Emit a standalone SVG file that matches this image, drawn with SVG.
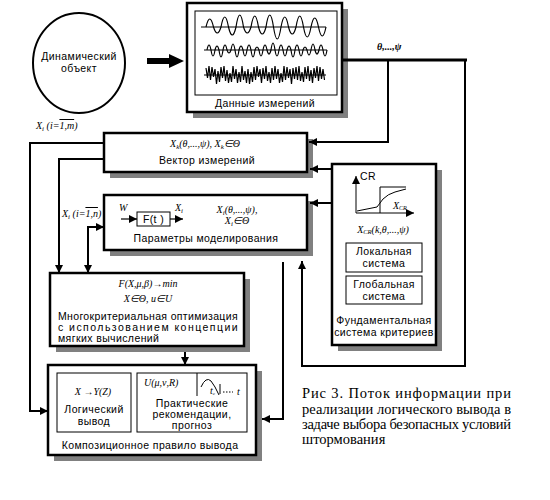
<svg xmlns="http://www.w3.org/2000/svg" width="550" height="500" viewBox="0 0 550 500">
<defs>
<marker id="ah" markerWidth="8" markerHeight="8" refX="8" refY="4" orient="auto" markerUnits="userSpaceOnUse">
<path d="M0,0 L8,4 L0,8 Z" fill="#000"/>
</marker>
<marker id="ahs" markerWidth="8" markerHeight="8" refX="8" refY="4" orient="auto-start-reverse" markerUnits="userSpaceOnUse">
<path d="M0,0 L8,4 L0,8 Z" fill="#000"/>
</marker>
</defs>
<style>
.box{fill:#fff;stroke:#000;stroke-width:2.5}
.ibox{fill:#fff;stroke:#000;stroke-width:1}
.sh{fill:#808080}
.lbl{font-family:"Liberation Sans",Arial,sans-serif;font-size:10.5px;fill:#000;letter-spacing:0.4px}
.fm{font-family:"Liberation Serif","Times New Roman",serif;font-size:10px;font-style:italic;fill:#000}
.cap{font-family:"Liberation Serif","Times New Roman",serif;font-size:14.5px;fill:#000}
.c{fill:none;stroke:#000;stroke-width:2}
.w{fill:none;stroke:#000;stroke-width:1.2}
</style>
<rect width="550" height="500" fill="#fff"/>

<g id="object">
<ellipse cx="79" cy="63" rx="46" ry="50" fill="#fff" stroke="#000" stroke-width="2"/>
<text class="lbl" x="79" y="60" text-anchor="middle">Динамический</text>
<text class="lbl" x="79" y="72" text-anchor="middle">объект</text>
</g>

<g id="big-arrow">
<rect x="147" y="58" width="24" height="6" fill="#000"/>
<path d="M169,54 L184,61 L169,68 Z" fill="#000"/>
</g>

<g id="data">
<rect class="sh" x="193" y="9" width="155" height="109"/>
<rect class="box" x="187" y="3" width="155" height="109"/>
<rect class="ibox" x="195" y="11" width="142" height="84"/>
<line x1="201" y1="27" x2="326" y2="27" stroke="#000" stroke-width="1"/>
<line x1="204" y1="50" x2="327" y2="50" stroke="#000" stroke-width="1"/>
<line x1="204" y1="75" x2="326" y2="75" stroke="#000" stroke-width="1"/>
<path class="w" d="M206,27 Q209.75,11 213.5,27 Q217.25,39 221,27 Q224.75,7 228.5,27 Q232.25,43 236,27 Q239.75,3 243.5,27 Q247.25,39 251,27 Q254.75,5 258.5,27 Q262.25,41 266,27 Q269.75,3 273.5,27 Q277.25,51 281,27 Q284.75,7 288.5,27 Q292.25,41 296,27 Q299.75,5 303.5,27 Q307.25,47 311,27 Q314.75,9 318.5,27 Q322.25,45 326,27"/>
<path class="w" d="M207,50 Q209,40 211,50 Q213,62 215,50 Q217,42 219,50 Q221,64 223,50 Q225,40 227,50 Q229,56 231,50 Q233,38 235,50 Q237,64 239,50 Q241,42 243,50 Q245,62 247,50 Q249,40 251,50 Q253,64 255,50 Q257,44 259,50 Q261,62 263,50 Q265,40 267,50 Q269,58 271,50 Q273,36 275,50 Q277,62 279,50 Q281,40 283,50 Q285,62 287,50 Q289,42 291,50 Q293,64 295,50 Q297,40 299,50 Q301,62 303,50 Q305,44 307,50 Q309,60 311,50 Q313,38 315,50 Q317,58 319,50 Q321,40 323,50 Q325,62 327,50"/>
<polyline class="w" points="206,68 207.5,78 209,66 210.5,80 212,67 213.5,77 215,69 216.5,84 218,71 219.5,82 221,67 222.5,78 224,66 225.5,81 227,70 228.5,83 230,73 231.5,82 233,66 234.5,79 236,69 237.5,83 239,72 240.5,82 242,66 243.5,80 245,71 246.5,83 248,69 249.5,84 251,72 252.5,82 254,67 255.5,80 257,66 258.5,77 260,69 261.5,83 263,68 264.5,79 266,66 267.5,81 269,72 270.5,83 272,68 273.5,80 275,66 276.5,79 278,69 279.5,83 281,73 282.5,82 284,66 285.5,80 287,67 288.5,78 290,69 291.5,84 293,68 294.5,79 296,67 297.5,80 299,66 300.5,81 302,72 303.5,82 305,67 306.5,79 308,66 309.5,81 311,70 312.5,83 314,68 315.5,78 317,66 318.5,81 320,67 321.5,79 323,69 324.5,80"/>
<text class="lbl" x="265" y="107" text-anchor="middle">Данные измерений</text>
</g>

<g id="vector">
<rect class="sh" x="110" y="139" width="203" height="39"/>
<rect class="box" x="104" y="133" width="203" height="39"/>
<text class="fm" x="205" y="147" text-anchor="middle">X<tspan font-size="7" dy="2">k</tspan><tspan dy="-2">(θ,...,ψ),   X</tspan><tspan font-size="7" dy="2">k</tspan><tspan dy="-2">∈Θ</tspan></text>
<text class="lbl" x="207" y="164" text-anchor="middle">Вектор измерений</text>
</g>

<g id="params">
<rect class="sh" x="110" y="201" width="203" height="55"/>
<rect class="box" x="104" y="195" width="203" height="55"/>
<text class="fm" x="119" y="211">W</text>
<line x1="121" y1="219" x2="137" y2="219" stroke="#000" stroke-width="1.2" marker-end="url(#ah)"/>
<rect class="ibox" x="137" y="212" width="33" height="14"/>
<text class="lbl" x="153.5" y="223" text-anchor="middle" letter-spacing="0">F(t )</text>
<line x1="170" y1="219" x2="183" y2="219" stroke="#000" stroke-width="1.2" marker-end="url(#ah)"/>
<text class="fm" x="175" y="211">X<tspan font-size="7" dy="2">i</tspan></text>
<text class="fm" x="237" y="213" text-anchor="middle">X<tspan font-size="7" dy="2">i</tspan><tspan dy="-2">(θ,...,ψ),</tspan></text>
<text class="fm" x="237" y="224" text-anchor="middle">X<tspan font-size="7" dy="2">i</tspan><tspan dy="-2">∈Θ</tspan></text>
<text class="lbl" x="206" y="242" text-anchor="middle">Параметры моделирования</text>
</g>

<g id="criteria">
<rect class="sh" x="338" y="170" width="104" height="181"/>
<rect class="box" x="332" y="164" width="104" height="181"/>
<line x1="356" y1="213" x2="356" y2="176" stroke="#000" stroke-width="1" marker-end="url(#ah)"/>
<line x1="356" y1="213" x2="414" y2="213" stroke="#000" stroke-width="1" marker-end="url(#ah)"/>
<text class="lbl" x="360" y="180" font-size="8">CR</text>
<line x1="380" y1="187" x2="380" y2="213" stroke="#000" stroke-width="1"/>
<line x1="380" y1="187" x2="406" y2="187" stroke="#000" stroke-width="1"/>
<path d="M357,211 L367,209 L377,207 Q380,203 383,199 Q388,194 395,192 L406,189" fill="none" stroke="#000" stroke-width="1"/>
<text class="fm" x="393" y="209" font-size="9">X<tspan font-size="6" dy="1">CR</tspan></text>
<text class="fm" x="383" y="233" text-anchor="middle">X<tspan font-size="6.5" dy="1">CR</tspan><tspan dy="-1">(k,θ,...,ψ)</tspan></text>
<rect class="ibox" x="346" y="243" width="76" height="29"/>
<text class="lbl" x="384" y="255" text-anchor="middle">Локальная</text>
<text class="lbl" x="384" y="267" text-anchor="middle">система</text>
<rect class="ibox" x="346" y="276" width="76" height="28"/>
<text class="lbl" x="384" y="288" text-anchor="middle">Глобальная</text>
<text class="lbl" x="384" y="300" text-anchor="middle">система</text>
<text class="lbl" x="384" y="324" text-anchor="middle">Фундаментальная</text>
<text class="lbl" x="384" y="336" text-anchor="middle">система критериев</text>
</g>

<g id="optim">
<rect class="sh" x="56" y="279" width="194" height="73"/>
<rect class="box" x="50" y="273" width="194" height="73"/>
<text class="fm" x="148" y="287" text-anchor="middle">F(X,μ,β)→min</text>
<text class="fm" x="148" y="302" text-anchor="middle">X∈Θ,  u∈U</text>
<text class="lbl" x="58" y="320" textLength="180" lengthAdjust="spacing">Многокритериальная оптимизация</text>
<text class="lbl" x="58" y="331" textLength="180" lengthAdjust="spacing">с использованием концепции</text>
<text class="lbl" x="58" y="342" letter-spacing="0">мягких вычислений</text>
</g>

<g id="compose">
<rect class="sh" x="54" y="371" width="208" height="90"/>
<rect class="box" x="48" y="365" width="208" height="90"/>
<rect class="ibox" x="57" y="373" width="74" height="59"/>
<text class="fm" x="93" y="395" text-anchor="middle">X →Y(Z)</text>
<text class="lbl" x="94" y="413" text-anchor="middle">Логический</text>
<text class="lbl" x="94" y="425" text-anchor="middle">вывод</text>
<rect class="ibox" x="137" y="373" width="110" height="59"/>
<text class="fm" x="144" y="386">U(μ,ν,R)</text>
<line x1="197" y1="373" x2="197" y2="396" stroke="#000" stroke-width="1"/>
<path d="M201,387 Q206,376 211,381 Q215,386 219,395" fill="none" stroke="#000" stroke-width="1"/>
<line x1="220" y1="384" x2="220" y2="394" stroke="#000" stroke-width="1"/>
<line x1="223" y1="392" x2="233" y2="392" stroke="#000" stroke-width="1" stroke-dasharray="1.5,1.5"/>
<text class="fm" x="210" y="394" font-size="7">t<tspan font-size="5" dy="1">c</tspan></text>
<text class="fm" x="237" y="395" font-size="7">t</text>
<text class="lbl" x="192" y="407" text-anchor="middle">Практические</text>
<text class="lbl" x="192" y="418" text-anchor="middle">рекомендации,</text>
<text class="lbl" x="192" y="429" text-anchor="middle">прогноз</text>
<text class="lbl" x="150" y="449" text-anchor="middle">Композиционное правило вывода</text>
</g>

<g id="labels">
<text class="fm" x="36" y="129">X<tspan font-size="7" dy="2">i</tspan><tspan dy="-2">  (i=</tspan><tspan text-decoration="overline">1,m</tspan><tspan>)</tspan></text>
<text class="fm" x="62" y="217">X<tspan font-size="7" dy="2">i</tspan><tspan dy="-2">  (i=</tspan><tspan text-decoration="overline">1,n</tspan><tspan>)</tspan></text>
<text class="fm" x="377" y="50" font-weight="bold" font-style="normal">θ,...,ψ</text>
</g>

<g id="connectors">
<line x1="343" y1="60" x2="467" y2="60" stroke="#000" stroke-width="3"/>
<polyline class="c" points="388,60 388,142 309,142" marker-end="url(#ah)"/>
<polyline class="c" points="465,60 465,366 302,366 302,261" marker-end="url(#ah)"/>
<line class="c" x1="332" y1="169" x2="310" y2="169" marker-end="url(#ah)"/>
<line class="c" x1="332" y1="203" x2="310" y2="203" marker-end="url(#ah)"/>
<polyline class="c" points="104,143 30,143 30,411 48,411" marker-end="url(#ah)"/>
<polyline class="c" points="104,159 59,159 59,273" marker-end="url(#ah)"/>
<polyline class="c" points="88,273 88,227 104,227" marker-start="url(#ahs)" marker-end="url(#ah)"/>
<line class="c" x1="185" y1="352" x2="185" y2="365" marker-end="url(#ah)"/>
<polyline class="c" points="283,262 283,419 262,419" marker-end="url(#ah)"/>
</g>

<g id="caption">
<text class="cap" x="302" y="398" textLength="209" lengthAdjust="spacing">Рис 3. Поток информации при</text>
<text class="cap" x="302" y="414" textLength="209" lengthAdjust="spacing">реализации логического вывода в</text>
<text class="cap" x="302" y="429" textLength="209" lengthAdjust="spacing">задаче выбора безопасных условий</text>
<text class="cap" x="302" y="444">штормования</text>
</g>
</svg>
